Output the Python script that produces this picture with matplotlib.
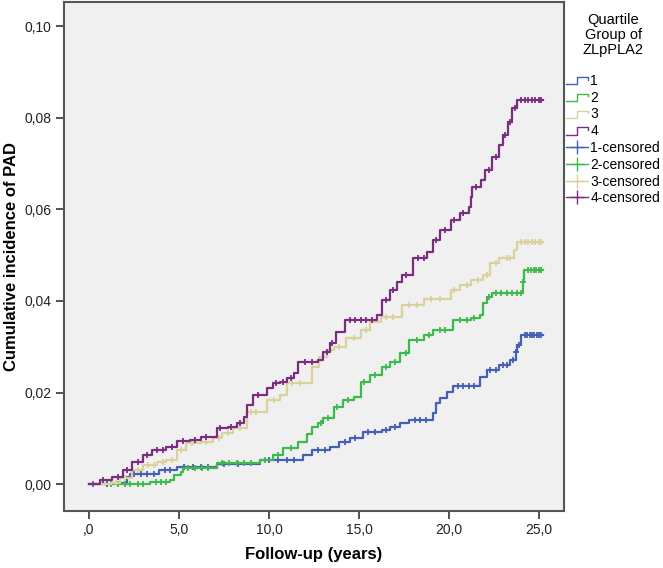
import numpy as np
import matplotlib
matplotlib.use("Agg")
import matplotlib.pyplot as plt
from matplotlib.lines import Line2D
from matplotlib.legend_handler import HandlerBase

plt.rcParams['font.family'] = ['Liberation Sans', 'DejaVu Sans']

# step curves: event times (years) and cumulative incidence after each event
t1 = [0, 1.3, 2.1, 2.3, 3.9, 4.9, 7.1, 9.5, 11.9, 12.4, 13.4, 13.9, 14.5, 15.2, 16.3, 16.7,
      17.3, 17.8, 19.1, 19.3, 19.5, 19.9, 20.2, 21.7, 22.1, 22.8, 23.4, 23.7, 23.8, 24.0, 25.2]
v1 = [0, 0.0003, 0.0016, 0.0022, 0.0031, 0.0038, 0.0044, 0.0053, 0.0064, 0.0075, 0.0081, 0.0092,
      0.0101, 0.0114, 0.0119, 0.0125, 0.0134, 0.0140, 0.0156, 0.0177, 0.0188, 0.0202, 0.0215,
      0.0234, 0.0250, 0.0261, 0.0272, 0.0288, 0.0305, 0.0325, 0.0325]

t2 = [0.9, 3.4, 4.5, 4.7, 5.1, 5.2, 7.1, 9.5, 10.2, 10.8, 11.6, 12.1, 12.4, 12.7, 13.0, 13.6, 14.1,
      14.7, 15.1, 15.6, 16.3, 16.7, 17.3, 17.8, 18.6, 19.1, 20.2, 21.2, 21.7, 21.9, 22.1, 22.4,
      24.1, 24.15, 25.2]
v2 = [0, 0.0005, 0.0009, 0.0020, 0.0027, 0.0035, 0.0046, 0.0053, 0.0064, 0.0079, 0.0092, 0.0110,
      0.0125, 0.0134, 0.0145, 0.0169, 0.0184, 0.0191, 0.0223, 0.0239, 0.0256, 0.0267, 0.0287,
      0.0315, 0.0326, 0.0337, 0.0358, 0.0363, 0.0369, 0.0396, 0.0409, 0.0417, 0.0441, 0.0467, 0.0467]

t3 = [0, 1.2, 1.7, 2.4, 3.0, 3.8, 4.3, 4.9, 5.4, 6.2, 6.9, 7.4, 8.0, 8.8, 9.9, 10.6, 11.0, 12.4,
      12.8, 13.2, 13.6, 14.3, 15.1, 15.6, 16.2, 17.4, 18.6, 20.1, 20.6, 21.2, 21.9, 22.3, 22.8,
      23.6, 23.8, 25.2]
v3 = [0, 0.0003, 0.0014, 0.0031, 0.0042, 0.0049, 0.0053, 0.0075, 0.0090, 0.0092, 0.0101, 0.0112,
      0.0123, 0.0158, 0.0184, 0.0195, 0.0221, 0.0256, 0.0278, 0.0293, 0.0300, 0.0319, 0.0337,
      0.0354, 0.0365, 0.0391, 0.0405, 0.0424, 0.0435, 0.0446, 0.0457, 0.0483, 0.0494, 0.0512,
      0.0528, 0.0528]

t4 = [0, 0.6, 1.3, 1.9, 2.4, 3.0, 3.5, 4.3, 4.9, 5.6, 6.2, 7.1, 7.7, 8.2, 8.6, 8.8, 9.1, 9.9,
      10.2, 10.6, 11.0, 11.4, 11.6, 12.7, 13.0, 13.4, 13.7, 14.2, 16.0, 16.3, 16.7, 17.1, 17.4,
      18.0, 18.8, 19.1, 19.5, 20.1, 20.6, 21.1, 21.2, 21.3, 21.8, 22.0, 22.4, 22.8, 23.0, 23.3,
      23.5, 23.8, 25.2]
v4 = [0, 0.0009, 0.0016, 0.0031, 0.0049, 0.0064, 0.0075, 0.0081, 0.0094, 0.0097, 0.0103, 0.0123,
      0.0125, 0.0134, 0.0147, 0.0173, 0.0195, 0.0210, 0.0221, 0.0223, 0.0232, 0.0243, 0.0267,
      0.0271, 0.0289, 0.0308, 0.0332, 0.0358, 0.0369, 0.0402, 0.0424, 0.0441, 0.0457, 0.0494,
      0.0507, 0.0533, 0.0555, 0.0577, 0.0592, 0.0605, 0.0627, 0.0649, 0.0664, 0.0686, 0.0714,
      0.0740, 0.0762, 0.0790, 0.0821, 0.0838, 0.0838]

# censored times
c1 = [0.2, 1.0, 2.5, 2.9, 3.2, 3.6, 4.2, 4.5, 5.3, 5.8, 6.2, 6.6, 7.5, 8.3, 10.0, 10.5, 11.0, 11.4,
      12.7, 13.1, 14.2, 14.8, 15.5, 15.9, 16.5, 17.0, 18.1, 18.4, 18.7, 20.5, 20.8, 21.1, 21.4,
      22.3, 22.6, 23.0, 23.2, 23.55, 23.75, 23.9, 24.2, 24.35, 24.5, 24.6, 24.75, 24.9, 25.0, 25.1]
c2 = [1.2, 1.6, 2.0, 2.3, 2.7, 3.0, 3.7, 4.0, 4.3, 5.5, 5.9, 6.3, 6.6, 7.4, 7.8, 8.2, 8.6, 9.0,
      9.8, 10.5, 11.2, 12.9, 13.3, 13.8, 14.4, 15.3, 15.9, 16.5, 17.0, 17.6, 18.2, 18.9, 19.5,
      19.8, 20.6, 21.0, 21.4, 22.2, 22.6, 22.9, 23.2, 23.5, 23.8, 24.0, 24.12, 24.4, 24.55, 24.7,
      24.85, 25.0, 25.1]
c3 = [1.5, 2.0, 2.7, 3.3, 3.6, 4.1, 4.6, 5.1, 5.7, 6.5, 7.2, 7.7, 8.4, 9.0, 9.3, 10.3, 11.3, 11.7,
      13.0, 13.9, 14.7, 15.4, 16.5, 16.9, 17.8, 18.2, 19.0, 19.5, 20.3, 21.0, 21.6, 22.1, 22.6,
      23.2, 23.4, 24.0, 24.2, 24.4, 24.6, 24.8, 25.0, 25.1]
c4 = [0.8, 1.6, 2.1, 2.7, 3.2, 3.8, 4.1, 4.6, 5.2, 5.9, 6.5, 7.3, 7.9, 8.4, 9.4, 10.4, 10.8, 11.2,
      12.0, 12.4, 13.2, 13.5, 14.5, 14.8, 15.1, 15.4, 15.7, 16.5, 16.9, 17.6, 18.3, 18.6, 19.3,
      19.8, 20.3, 20.8, 21.5, 22.2, 22.6, 23.1, 23.4, 23.65, 24.0, 24.2, 24.4, 24.6, 24.8, 25.0, 25.1]

groups = ['1', '2', '3', '4']
colors = ['#4460B4', '#3EBA4C', '#D9D29C', '#7B2C80']
xticks = [0, 5, 10, 15, 20, 25]
xticklabels = [',0', '5,0', '10,0', '15,0', '20,0', '25,0']
yticks = [0, 0.02, 0.04, 0.06, 0.08, 0.10]
yticklabels = ['0,00', '0,02', '0,04', '0,06', '0,08', '0,10']


class StepHandler(HandlerBase):
    def create_artists(self, legend, orig_handle, xdescent, ydescent, width, height, fontsize, trans):
        x0 = -xdescent
        y0 = -ydescent
        xs = [x0, x0 + width * 0.5, x0 + width * 0.5, x0 + width, x0 + width]
        ys = [y0 + height * 0.05, y0 + height * 0.05, y0 + height * 0.8, y0 + height * 0.8, y0 + height * 0.55]
        ln = Line2D(xs, ys, color=orig_handle.get_color(), lw=1.0)
        ln.set_transform(trans)
        return [ln]


fig = plt.figure(figsize=(6.63, 5.68), dpi=100)
ax = fig.add_axes([64 / 663, 57 / 568, 500 / 663, 509 / 568])
ax.set_facecolor('#F0F0F0')

curves = [(t1, v1, c1), (t2, v2, c2), (t3, v3, c3), (t4, v4, c4)]
step_handles = []
cens_handles = []
for (t, v, c), col, g in zip(curves, colors, groups):
    ax.step(t, v, where='post', color=col, lw=1.6)
    idx = np.searchsorted(t, c, side='right') - 1
    cy = np.array(v)[idx]
    ax.plot(c, cy, linestyle='none', marker='+', ms=5, mew=1.3, color=col)
    step_handles.append(Line2D([], [], color=col))
    cens_handles.append(Line2D([], [], color=col, marker='+', ms=10, mew=1.0, lw=1.0))

ax.set_xlim(-1.39, 26.39)
ax.set_ylim(-0.00583, 0.10524)
ax.set_xticks(xticks)
ax.set_xticklabels(xticklabels)
ax.set_yticks(yticks)
ax.set_yticklabels(yticklabels)
ax.tick_params(direction='out', length=6, width=1.2, color='#333333', labelsize=10,
               labelcolor='#222222', pad=3)
for side in ['top', 'right', 'bottom', 'left']:
    ax.spines[side].set_color('#555555')
    ax.spines[side].set_linewidth(1.5)

ax.set_xlabel('Follow-up (years)', fontsize=12, fontweight='bold')
ax.set_ylabel('Cumulative incidence of PAD', fontsize=12, fontweight='bold')
ax.xaxis.set_label_coords(0.5, (511 - 554) / 509)
ax.xaxis.label.set_va('center')
ax.yaxis.set_label_coords((12 - 64) / 500, 0.5)
ax.yaxis.label.set_va('center')

labels = groups + [g + '-censored' for g in groups]
handler_map = {h: StepHandler() for h in step_handles}
leg = fig.legend(step_handles + cens_handles, labels, handler_map=handler_map,
                 loc='upper left', bbox_to_anchor=(566 / 663, 1 - 13 / 568),
                 frameon=False, fontsize=10, title='Quartile\nGroup of\nZLpPLA2',
                 title_fontsize=10.5, handlelength=1.6, handletextpad=0.15,
                 labelspacing=0.2, borderpad=0, borderaxespad=0)
leg.get_title().set_linespacing(1.1)
leg.get_title().set_multialignment('center')
leg._legend_box.sep = 12

fig.savefig('out.png', dpi=100)
